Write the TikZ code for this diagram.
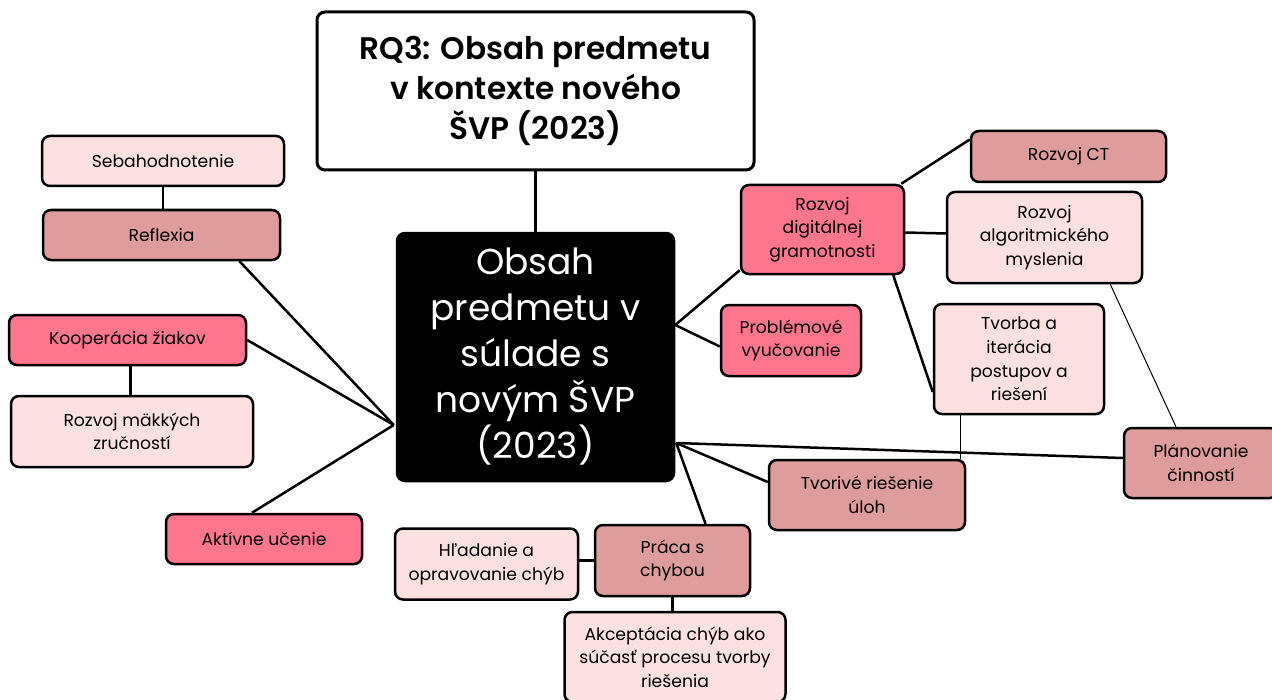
\documentclass[tikz,border=0pt]{standalone}
\usepackage{fontspec}
\setmainfont{Poppins}
\newfontfamily\titlefont{Poppins}[UprightFont=* SemiBold]
\usetikzlibrary{calc}
\definecolor{lightpink}{HTML}{FDE0E0}
\definecolor{midpink}{HTML}{DF9C9C}
\definecolor{strongpink}{HTML}{FE768D}
\tikzset{
  bx/.style 2 args={draw=black, line width=1.25pt, rounded corners=4pt, align=center,
    minimum width={#1*0.5pt}, minimum height={#2*0.5pt}, inner sep=0pt,
    font=\fontsize{8.6}{11.8}\selectfont},
  lt/.style={fill=lightpink},
  md/.style={fill=midpink},
  st/.style={fill=strongpink},
  con/.style={line width=1.25pt},
  thin/.style={line width=0.5pt}
}
\begin{document}
\begin{tikzpicture}[x=0.5pt,y=-0.5pt]
\useasboundingbox (0,0) rectangle (1272,700);
\clip (0,0) rectangle (1272,700);
\fill[white] (0,0) rectangle (1272,700);
% title and centre
\node[bx={437}{158}, line width=1.5pt, fill=white, font=\fontsize{15.6}{20}\selectfont\titlefont] (rq) at (535.5,91) {RQ3: Obsah predmetu\\v kontexte nového\\ŠVP (2023)};
\node[bx={277}{248}, fill=black, text=white, font=\fontsize{18}{23}\selectfont] (ctr) at (535.5,357) {Obsah\\predmetu v\\súlade s\\novým ŠVP\\(2023)};
% left
\node[bx={242}{50}, lt] (seb) at (163,161) {Sebahodnotenie};
\node[bx={237}{50}, md] (refl) at (161.5,235) {Reflexia};
\node[bx={237}{50}, st] (koop) at (127.5,340) {Kooperácia žiakov};
\node[bx={242}{71}, lt] (makk) at (132,431.5) {Rozvoj mäkkých\\zručností};
\node[bx={196}{50}, st] (akt) at (264,539) {Aktívne učenie};
% right
\node[bx={163}{89}, st] (dig) at (822.5,229.5) {Rozvoj\\digitálnej\\gramotnosti};
\node[bx={195}{51}, md] (ct) at (1068.5,156.5) {Rozvoj CT};
\node[bx={195}{91}, lt] (alg) at (1044.5,237.5) {Rozvoj\\algoritmického\\myslenia};
\node[bx={140}{71}, st] (prob) at (791,340.5) {Problémové\\vyučovanie};
\node[bx={170}{110}, lt] (tvorba) at (1019,359) {Tvorba a\\iterácia\\postupov a\\riešení};
\node[bx={154}{70}, md] (plan) at (1201,463) {Plánovanie\\činností};
\node[bx={196}{70}, md] (tvor) at (867,495) {Tvorivé riešenie\\úloh};
% bottom
\node[bx={183}{71}, lt] (hlad) at (486.5,564) {Hľadanie a\\opravovanie chýb};
\node[bx={155}{71}, md] (praca) at (672.5,560.5) {Práca s\\chybou};
\node[bx={221}{90}, lt] (akc) at (675,657) {Akceptácia chýb ako\\súčasť procesu tvorby\\riešenia};
% connector hubs on the centre box
\coordinate (cL) at ($(ctr.west)+(-2,68)$);
\coordinate (cR1) at ($(ctr.east)+(0,-32)$);
\coordinate (cR2) at ($(ctr.east)+(1,86)$);
% connectors
\draw[con] (rq.south) -- (ctr.north);
\draw[con] (seb.south) -- (seb.south |- refl.north);
\draw[con] ($(refl.south)+(78,0)$) -- (cL);
\draw[con] (koop.east) -- (cL);
\draw[con] ($(akt.north)+(-12,0)$) -- (cL);
\draw[con] ($(koop.south)+(3,0)$) -- ($(koop.south |- makk.north)+(3,0)$);
\draw[con] (cR1) -- ($(dig.south west)+(0,-5)$);
\draw[con] (cR1) -- ($(prob.west)+(0,6)$);
\draw[con] ($(dig.north east)+(-4,0)$) -- ($(ct.west)+(0,-17)$);
\draw[con] ($(dig.east)+(0,3)$) -- ($(alg.west)+(0,-4)$);
\draw[con] ($(dig.south east)+(-12,0)$) -- ($(tvorba.west)+(0,33)$);
\draw[thin] ($(alg.south east)+(-33,0)$) -- ($(plan.north)+(-25,0)$);
\draw[thin] ($(tvorba.south)+(-59,0)$) -- ($(tvor.north)+(93,0)$);
\draw[con] (cR2) -- ($(plan.west)+(0,-5)$);
\draw[con] (cR2) -- ($(tvor.west)+(0,-13)$);
\draw[con] (cR2) -- ($(praca.north)+(33,0)$);
\draw[con] (praca.west) -- (praca.west -| hlad.east);
\draw[con] (praca.south) -- (praca.south |- akc.north);
\end{tikzpicture}
\end{document}
